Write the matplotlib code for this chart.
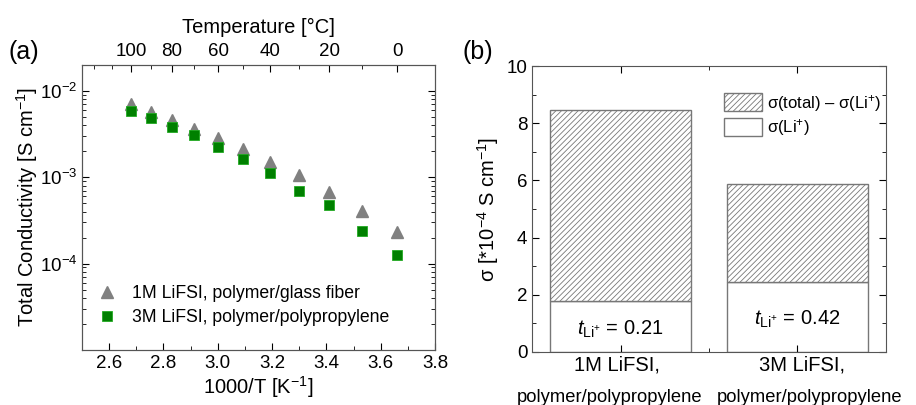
import numpy as np
import matplotlib
matplotlib.use("Agg")
import matplotlib.pyplot as plt
from matplotlib.patches import Patch
from matplotlib.ticker import FixedLocator, NullFormatter

plt.rcParams["font.family"] = ["Liberation Sans", "DejaVu Sans"]
plt.rcParams["mathtext.fontset"] = "custom"
plt.rcParams["mathtext.rm"] = "Liberation Sans"
plt.rcParams["mathtext.it"] = "Liberation Sans:italic"
plt.rcParams["hatch.color"] = "#9a9a9a"
plt.rcParams["hatch.linewidth"] = 0.6

# Datos panel (a)
temps_c = [100, 90, 80, 70, 60, 50, 40, 30, 20, 10, 0]
sigma_1m = [7.1e-3, 5.7e-3, 4.55e-3, 3.65e-3, 2.85e-3, 2.1e-3, 1.5e-3, 1.05e-3, 6.7e-4, 4.1e-4, 2.3e-4]
sigma_3m = [5.8e-3, 4.8e-3, 3.8e-3, 3.1e-3, 2.25e-3, 1.62e-3, 1.13e-3, 7.0e-4, 4.7e-4, 2.4e-4, 1.25e-4]
label_1m = "1M LiFSI, polymer/glass fiber"
label_3m = "3M LiFSI, polymer/polypropylene"

# Datos panel (b)
bar_labels = ["1M LiFSI,\npolymer/polypropylene", "3M LiFSI,\npolymer/polypropylene"]
sigma_total = [8.45, 5.86]
sigma_li = [1.77, 2.46]
t_li = [0.21, 0.42]

TICK = 13.5
LAB = 14.5

inv_t = 1000.0 / (np.array(temps_c) + 273.15)

fig = plt.figure(figsize=(9.16, 4.05), dpi=100)
ax1 = fig.add_axes([0.0895, 0.136, 0.3855, 0.704])
ax2 = fig.add_axes([0.581, 0.131, 0.386, 0.706])

# Panel (a)
ax1.semilogy(inv_t, sigma_1m, "^", color="#808080", ms=8, mec="#808080", label=label_1m)
ax1.semilogy(inv_t, sigma_3m, "s", color="#008000", ms=6.8, mec="#22aa22", mew=0.6, label=label_3m)
ax1.set_xlim(2.5, 3.8)
ax1.set_ylim(1e-5, 2e-2)
ax1.set_xticks([2.6, 2.8, 3.0, 3.2, 3.4, 3.6, 3.8])
ax1.set_xticklabels(["2.6", "2.8", "3.0", "3.2", "3.4", "3.6", "3.8"])
ax1.xaxis.set_minor_locator(FixedLocator([2.5, 2.7, 2.9, 3.1, 3.3, 3.5, 3.7]))
ax1.set_yticks([1e-4, 1e-3, 1e-2])
ax1.set_yticklabels(["10$^{-4}$", "10$^{-3}$", "10$^{-2}$"])
ax1.yaxis.set_minor_formatter(NullFormatter())
ax1.tick_params(which="both", direction="in", top=False, right=True, labelsize=TICK)
ax1.tick_params(which="major", length=5)
ax1.tick_params(which="minor", length=3)
ax1.set_xlabel("1000/T [K$^{-1}$]", fontsize=LAB, labelpad=2)
ax1.set_ylabel("Total Conductivity [S cm$^{-1}$]", fontsize=LAB, labelpad=0)
ax1.legend(loc="lower left", frameon=False, fontsize=12.7, handletextpad=0.45,
           borderaxespad=0.0, bbox_to_anchor=(0.0, 0.06), labelspacing=0.4)

top = ax1.twiny()
top.set_xlim(ax1.get_xlim())
major_t = [100, 80, 60, 40, 20, 0]
minor_t = [120, 110, 90, 70, 50, 30, 10, -10]
top.set_xticks([1000.0 / (t + 273.15) for t in major_t])
top.set_xticklabels([str(t) for t in major_t])
top.xaxis.set_minor_locator(FixedLocator([1000.0 / (t + 273.15) for t in minor_t]))
top.tick_params(which="both", direction="in", labelsize=TICK)
top.tick_params(which="major", length=5)
top.tick_params(which="minor", length=3)
top.set_xlabel("Temperature [°C]", fontsize=LAB, labelpad=7)

for a in (ax1, top, ax2):
    for s in a.spines.values():
        s.set_color("#555555")

# Panel (b)
pos = [1, 2]
excess = [tot - li for tot, li in zip(sigma_total, sigma_li)]
ax2.bar(pos, sigma_li, width=0.8, color="white", edgecolor="#777777", linewidth=1.0)
ax2.bar(pos, excess, bottom=sigma_li, width=0.8, color="white", edgecolor="#777777",
        linewidth=1.0, hatch="//////")
for p, li, t in zip(pos, sigma_li, t_li):
    ax2.text(p, li / 2 - 0.1, "$t_{\\mathrm{Li^{+}}}$ = %.2f" % t,
             ha="center", va="center", fontsize=LAB)
ax2.set_xlim(0.5, 2.5)
ax2.set_ylim(0, 10)
ax2.set_xticks(pos)
ax2.set_xticklabels([])
ax2.xaxis.set_minor_locator(FixedLocator([1.5]))
for p, lab, dx in zip(pos, bar_labels, [-0.06, 0.07]):
    first, second = lab.split("\n")
    ax2.text(p + dx / 3, -0.12, first, ha="center", va="top", fontsize=LAB)
    ax2.text(p + dx, -1.3, second, ha="center", va="top", fontsize=13.2)
ax2.set_yticks([0, 2, 4, 6, 8, 10])
ax2.yaxis.set_minor_locator(FixedLocator([1, 3, 5, 7, 9]))
ax2.tick_params(which="both", direction="in", top=True, right=True, labelsize=TICK)
ax2.tick_params(which="major", length=5)
ax2.tick_params(which="minor", length=3)
ax2.set_ylabel("σ [*10$^{-4}$ S cm$^{-1}$]", fontsize=LAB, labelpad=4)
handles = [Patch(facecolor="white", edgecolor="#777777", hatch="//////"),
           Patch(facecolor="white", edgecolor="#777777")]
ax2.legend(handles, ["σ(total) – σ(Li$^{+}$)", "σ(Li$^{+}$)"], loc="upper right",
           frameon=False, fontsize=12, handlelength=2.3, handleheight=1.3,
           handletextpad=0.3, labelspacing=0.2, borderaxespad=0.0,
           bbox_to_anchor=(1.005, 0.93))

fig.text(0.009, 0.855, "(a)", fontsize=18)
fig.text(0.505, 0.855, "(b)", fontsize=18)

fig.savefig("out.png", dpi=100)
